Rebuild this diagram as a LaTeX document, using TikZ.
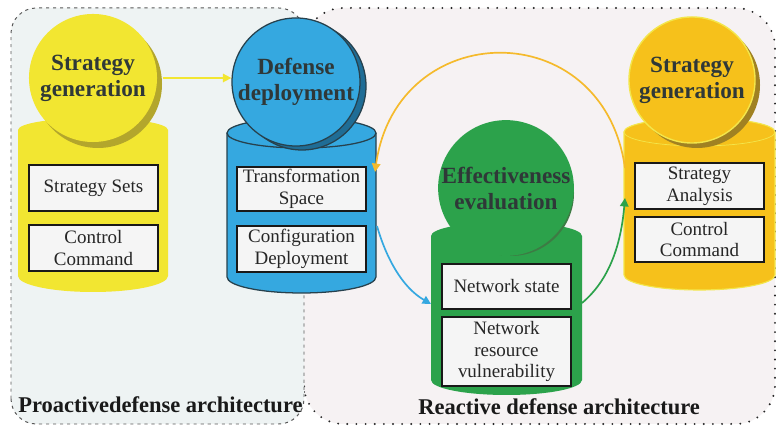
\documentclass[tikz,border=0pt]{standalone}
\usepackage{fontspec}
\setmainfont{Liberation Serif}
\usetikzlibrary{arrows.meta}

\definecolor{sgyellow}{HTML}{F2E631}
\definecolor{sgolive}{HTML}{B3A62C}
\definecolor{ddblue}{HTML}{35A8E0}
\definecolor{ddshade}{HTML}{1F6D96}
\definecolor{ddline}{HTML}{27414D}
\definecolor{eegreen}{HTML}{2CA24B}
\definecolor{eeshade}{HTML}{3D7B44}
\definecolor{saorange}{HTML}{F6C11B}
\definecolor{sashade}{HTML}{A08122}
\definecolor{saedge}{HTML}{F3E64B}
\definecolor{arcorange}{HTML}{F5BA2C}
\definecolor{proafill}{HTML}{EEF3F3}
\definecolor{reacfill}{HTML}{F6F2F3}
\definecolor{headtext}{HTML}{2F3838}
\definecolor{boxfill}{HTML}{F5F5F5}

\tikzset{
  head/.style={circle, inner sep=0pt, minimum size=3.2cm, align=center,
    text=headtext, font=\fontsize{16.5}{18.5}\selectfont\bfseries},
  item/.style={draw=black!90, line width=1.4pt, fill=boxfill, inner sep=0pt,
    minimum width=3.225cm, minimum height=1.15cm, align=center,
    text=black!85, font=\fontsize{13.5}{15.5}\selectfont},
  area/.style={anchor=base west, inner sep=0pt, text=black!90,
    font=\fontsize{16}{18}\selectfont\bfseries},
}

\begin{document}
\begin{tikzpicture}[x=0.025cm, y=0.025cm]
  \useasboundingbox[fill=white] (0,0) rectangle (776,432);

  % the two architectures
  \fill[reacfill, rounded corners=28] (304,8) rectangle (775,424);
  \draw[black!85, line width=1.5pt, line cap=round, dash pattern=on 0pt off 6.5pt,
    rounded corners=28] (304,40) -- (304,8) -- (775,8) -- (775,424) -- (304,424) -- (304,392);
  \draw[fill=proafill, draw=black!65, line width=0.7pt, dash pattern=on 2.2pt off 2.8pt,
    rounded corners=18] (11,8) rectangle (304,424);

  % cylinders
  \fill[sgyellow] (18,302) -- (18,156) arc[start angle=180, end angle=360, x radius=75, y radius=16]
    -- (168,302) arc[start angle=0, end angle=180, x radius=75, y radius=12] -- cycle;
  \draw[ddline, fill=ddblue, line width=0.9pt] (227,299) -- (227,155)
    arc[start angle=180, end angle=360, x radius=74.5, y radius=16]
    -- (376,299) arc[start angle=0, end angle=180, x radius=74.5, y radius=15] -- cycle;
  \draw[ddline, line width=0.9pt] (227,299) arc[start angle=180, end angle=360, x radius=74.5, y radius=15];
  \fill[eegreen] (431,196) -- (431,52) arc[start angle=180, end angle=360, x radius=75.5, y radius=15]
    -- (582,196) arc[start angle=0, end angle=180, x radius=75.5, y radius=14] -- cycle;
  \draw[saedge, fill=saorange, line width=0.8pt] (624,300) -- (624,157)
    arc[start angle=180, end angle=360, x radius=75.5, y radius=15]
    -- (775,300) arc[start angle=0, end angle=180, x radius=75.5, y radius=14] -- cycle;
  \draw[saedge, line width=0.5pt] (624,300) arc[start angle=180, end angle=360, x radius=75.5, y radius=14];

  % discs on top
  \fill[sgolive] (98,348) circle[radius=64];
  \node[head, fill=sgyellow] (sg-pro) at (93,354) {Strategy\\generation};
  \draw[ddline, fill=ddshade, line width=0.9pt] (302,346) circle[radius=64];
  \node[head, fill=ddblue, draw=ddline, line width=0.9pt] (dd) at (296,350) {Defense\\deployment};
  \fill[eeshade] (511,239) circle[radius=63];
  \node[head, fill=eegreen, minimum size=3.15cm] (ee) at (506,244) {Effectiveness\\evaluation};
  \fill[sashade] (697,347) circle[radius=63];
  \node[head, fill=saorange, draw=saedge, line width=1pt, minimum size=3.15cm] (sg-re) at (692,352) {Strategy\\generation};

  \node[item] (sets) at (93.5,244) {Strategy Sets};
  \node[item] (cmd-pro) at (93.5,184) {Control\\Command};
  \node[item, minimum height=1.1cm] (space) at (301.5,243) {Transformation\\Space};
  \node[item] (deploy) at (301.5,183) {Configuration\\Deployment};
  \node[item, minimum height=1.125cm] (state) at (506.5,145.5) {Network state};
  \node[item, minimum height=1.725cm] (vuln) at (506.5,80.5) {Network\\resource\\vulnerability};
  \node[item] (analysis) at (699.5,246) {Strategy\\Analysis};
  \node[item, minimum height=1.125cm] (cmd-re) at (699.5,192.5) {Control\\Command};

  \coordinate (dd-in) at (375,260);
  \coordinate (dd-out) at (377,206);
  \coordinate (ee-in) at (431,128);
  \coordinate (ee-out) at (582,129);
  \coordinate (sa-in) at (625,234);
  \coordinate (sa-out) at (625,264);

  \begin{scope}[line width=1.2pt, -{Triangle[length=6pt,width=6pt]}]
    \draw[sgyellow] ([xshift=0.13cm]sg-pro.east) -- (sg-pro.east -| dd.west);
    \draw[arcorange] (sa-out) to[out=98, in=82, looseness=1.6] (dd-in);
    \draw[ddblue] (dd-out) to[out=-74, in=150, looseness=0.9] (ee-in);
    \draw[eegreen] (ee-out) to[out=40, in=265, looseness=0.9] (sa-in);
  \end{scope}

  \node[area] (pro-label) at (18,19) {Proactivedefense architecture};
  \node[area] (re-label) at (418,17) {Reactive defense architecture};
\end{tikzpicture}
\end{document}
